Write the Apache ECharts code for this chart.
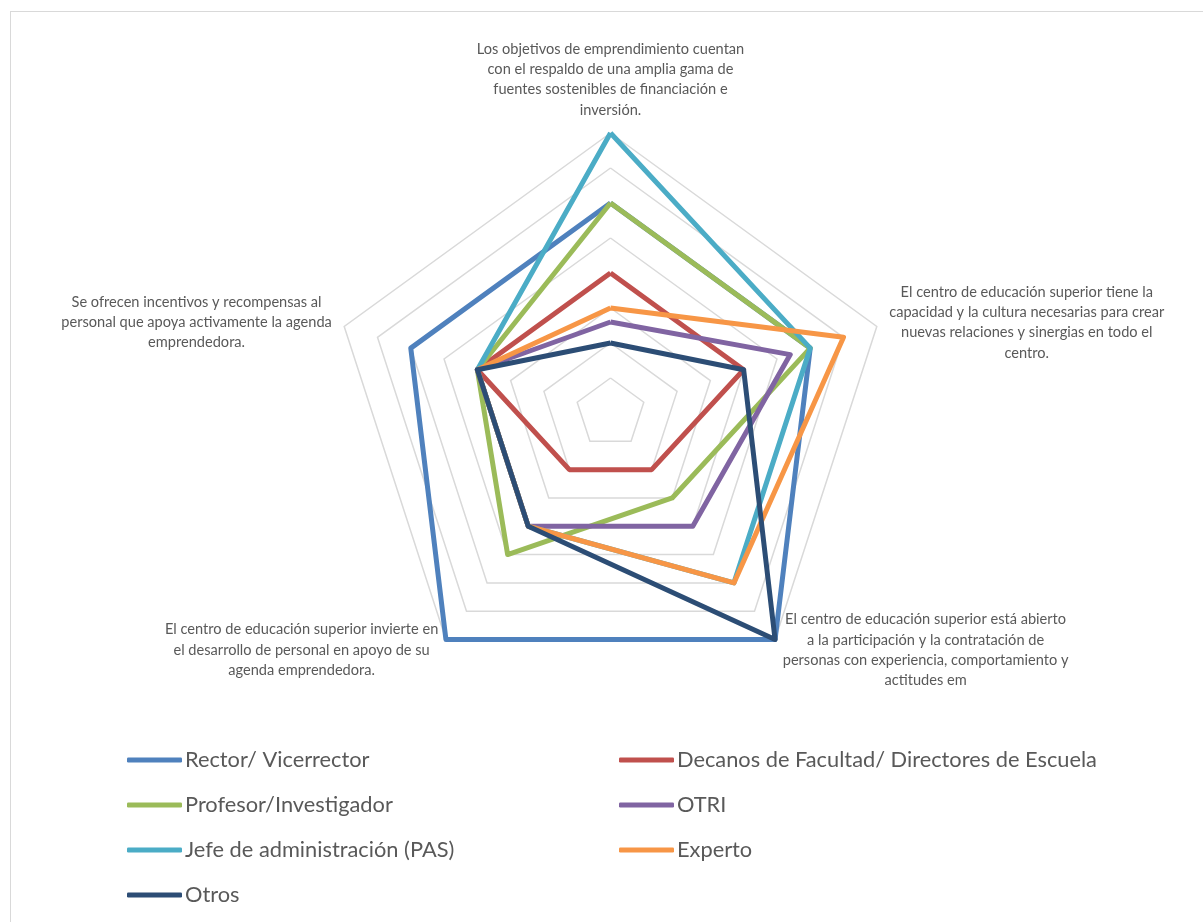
<!DOCTYPE html>
<html>
<head>
<meta charset="utf-8">
<script src="https://cdn.jsdelivr.net/npm/echarts@6/dist/echarts.min.js"></script>
<style>
  html, body { margin: 0; padding: 0; background: #ffffff; }
  #frame { position: absolute; left: 10px; top: 11px; width: 1400px; height: 1100px; border: 1.5px solid #d9d9d9; box-sizing: border-box; }
  #chart { position: absolute; left: 0; top: 0; width: 1203px; height: 922px; }
</style>
</head>
<body>
<div id="frame"></div>
<div id="chart"></div>
<script>
// Categories in the reference's clockwise order starting at the top
const categories = [
  'Los objetivos de emprendimiento cuentan\ncon el respaldo de una amplia gama de\nfuentes sostenibles de financiación e\ninversión.',
  'El centro de educación superior tiene la\ncapacidad y la cultura necesarias para crear\nnuevas relaciones y sinergias en todo el\ncentro.',
  'El centro de educación superior está abierto\na la participación y la contratación de\npersonas con experiencia, comportamiento y\nactitudes em',
  'El centro de educación superior invierte en\nel desarrollo de personal en apoyo de su\nagenda emprendedora.',
  'Se ofrecen incentivos y recompensas al\npersonal que apoya activamente la agenda\nemprendedora.'
];
const seriesNames = [
  'Rector/ Vicerrector',
  'Decanos de Facultad/ Directores de Escuela',
  'Profesor/Investigador',
  'OTRI',
  'Jefe de administración (PAS)',
  'Experto',
  'Otros'
];
const rector   = [6, 6, 8, 8, 6];
const decanos  = [4, 4, 2, 2, 4];
const profesor = [6, 6, 3, 5, 4];
const otri     = [2.6, 5.4, 4, 4, 4];
const jefe     = [8, 6, 6, 4, 4];
const experto  = [3, 7, 6, 4, 4];
const otros    = [2, 4, 8, 4, 4];
const axisMax = 8;

const colors = ['#4F81BD', '#C0504D', '#9BBB59', '#8064A2', '#4BACC6', '#F79646', '#2C4D75'];
const allValues = [rector, decanos, profesor, otri, jefe, experto, otros];

// ECharts places indicators counter-clockwise; reorder so the picture runs clockwise
const order = [0, 4, 3, 2, 1];
const indicator = order.map(i => ({ name: categories[i], max: axisMax, min: 0 }));

const FONT = 'Lato, "Open Sans", sans-serif';

const chart = echarts.init(document.getElementById('chart'), null, { renderer: 'canvas' });
chart.setOption({
  backgroundColor: 'transparent',
  animation: false,
  color: colors,
  legend: {
    left: 122,
    top: 739,
    width: 1060,
    orient: 'horizontal',
    icon: 'roundRect',
    itemWidth: 55,
    itemHeight: 5,
    itemGap: 13,
    data: seriesNames,
    textStyle: {
      fontFamily: FONT,
      fontSize: 21.8,
      color: '#595959',
      width: 421,
      lineHeight: 32,
      padding: [0, 0, 0, -2]
    }
  },
  radar: {
    center: [610.5, 413],
    radius: 280,
    shape: 'polygon',
    splitNumber: 8,
    indicator: indicator,
    axisLine: { show: false },
    axisTick: { show: false },
    axisLabel: { show: false },
    splitArea: { show: false },
    splitLine: { lineStyle: { color: '#d9d9d9', width: 1.5 } },
    axisNameGap: 13,
    axisName: {
      formatter: function (name) {
        return name.split('\n').map(l => '{c|' + l + '}').join('\n');
      },
      rich: {
        c: {
          align: 'center',
          fontFamily: FONT,
          fontSize: 14.6,
          lineHeight: 20.3,
          color: '#595959'
        }
      }
    }
  },
  series: seriesNames.map((name, k) => ({
    type: 'radar',
    name: name,
    symbol: 'none',
    z: 2 + k,
    lineStyle: { width: 5, color: colors[k], join: 'round' },
    itemStyle: { color: colors[k] },
    data: [{ name: name, value: order.map(i => allValues[k][i]) }]
  }))
});
</script>
</body>
</html>
